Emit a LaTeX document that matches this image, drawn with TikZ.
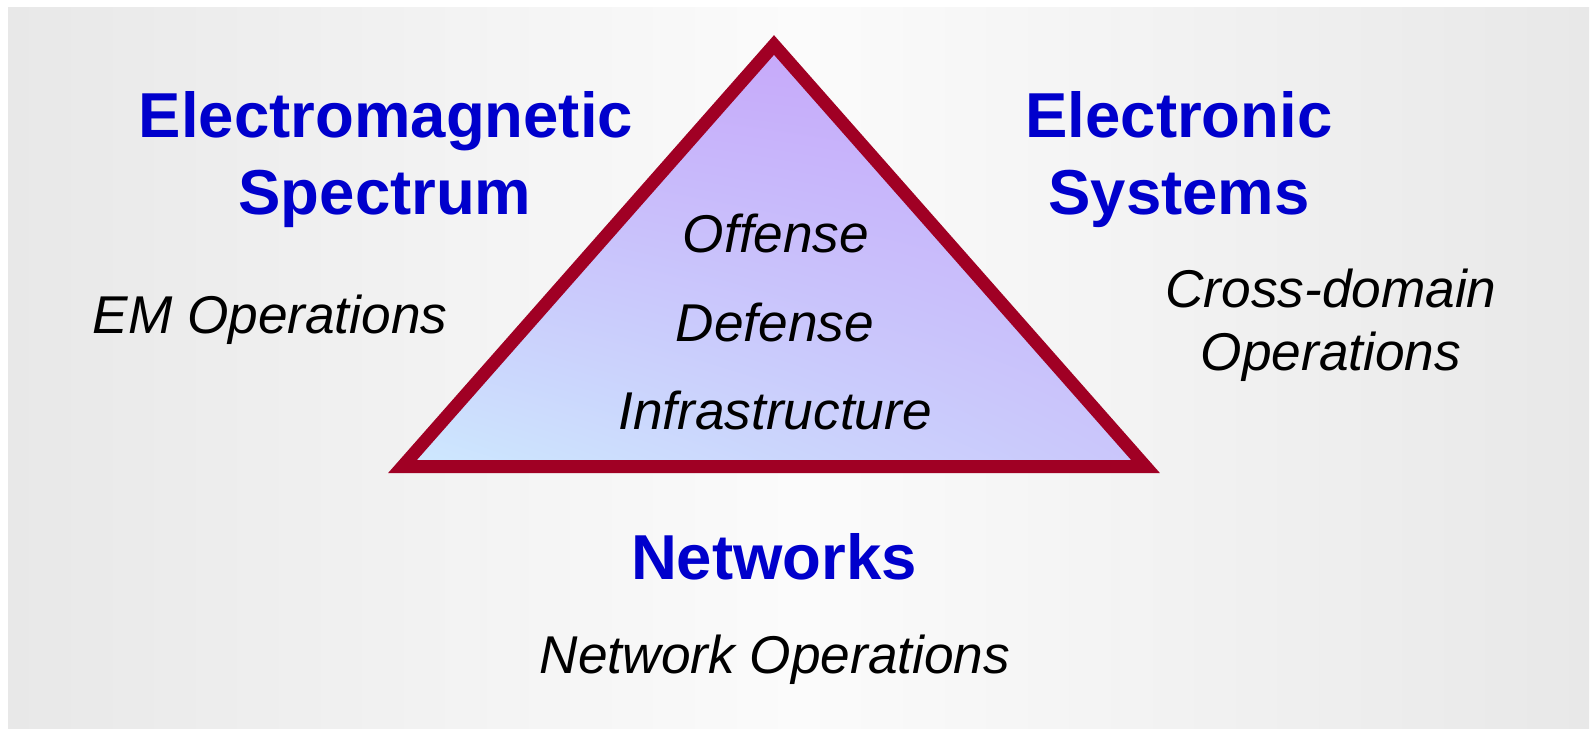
\documentclass[tikz,border=0pt]{standalone}
\usepackage{fontspec}
\usetikzlibrary{shadings}
\setmainfont{Liberation Sans}
\definecolor{bgside}{RGB}{232,232,232}
\definecolor{bgmid}{RGB}{251,251,251}
\definecolor{titleblue}{RGB}{0,0,204}
\definecolor{edgered}{RGB}{160,0,36}
\definecolor{triLL}{RGB}{205,233,254}
\definecolor{triUR}{RGB}{198,166,250}
\definecolor{triUL}{RGB}{199,172,250}
\definecolor{triLR}{RGB}{202,198,251}
\begin{document}
\begin{tikzpicture}[x=1pt,y=-1pt,
  title/.style={font=\fontsize{63.5}{63.5}\selectfont\bfseries, text=titleblue, anchor=base, inner sep=0pt},
  label/.style={font=\fontsize{53.2}{53.2}\selectfont\itshape, text=black, anchor=base, inner sep=0pt}]
\useasboundingbox (0,0) rectangle (1592,728);
\shade[left color=bgside, right color=bgside, middle color=bgmid] (8,7) rectangle (1589,728);
\coordinate (A) at (774,45);
\coordinate (B) at (402.5,466.5);
\coordinate (C) at (1145.5,466.5);
\shade[lower left=triLL, upper right=triUR, upper left=triUL, lower right=triLR] (A) -- (B) -- (C) -- cycle;
\draw[line width=13pt, edgered, line join=miter] (A) -- (B) -- (C) -- cycle;
\node[title] (em1) at (386,137) {Electromagnetic};
\node[title] (em2) at (385,214) {Spectrum};
\node[title] (es1) at (1179,137) {Electronic};
\node[title] (es2) at (1179,214) {Systems};
\node[title] (nw) at (774,579) {Networks};
\node[label] (emop) at (270,333) {EM Operations};
\node[label] (cd1) at (1331,307) {Cross-domain};
\node[label] (cd2) at (1331,370) {Operations};
\node[label] (off) at (776,252) {Offense};
\node[label] (def) at (775,341) {Defense};
\node[label] (inf) at (775,429) {Infrastructure};
\node[label] (nwop) at (775,673) {Network Operations};
\end{tikzpicture}
\end{document}
